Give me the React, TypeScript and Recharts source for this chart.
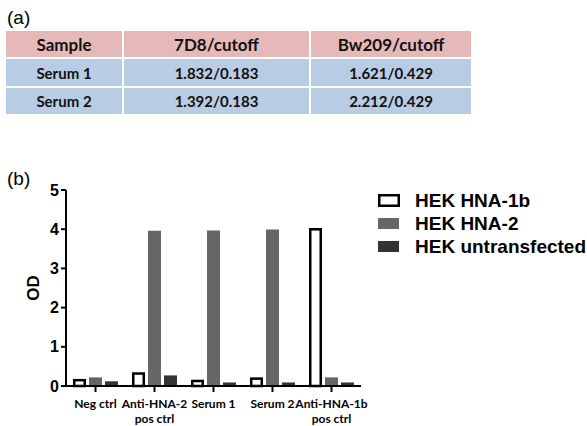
import { BarChart, Bar, XAxis, YAxis } from 'recharts';

const categories = ['Neg ctrl', 'Anti-HNA-2\npos ctrl', 'Serum 1', 'Serum 2', 'Anti-HNA-1b\npos ctrl'];
const hna1b = [0.18, 0.35, 0.16, 0.22, 4.03];
const hna2 = [0.22, 3.96, 3.97, 3.99, 0.22];
const untransfected = [0.12, 0.27, 0.09, 0.09, 0.09];
const yTicks = [0, 1, 2, 3, 4, 5];

const tableHeader = ['Sample', '7D8/cutoff', 'Bw209/cutoff'];
const tableRows = [
  ['Serum 1', '1.832/0.183', '1.621/0.429'],
  ['Serum 2', '1.392/0.183', '2.212/0.429'],
];

const SERIES = [
  { key: 'hna1b', name: 'HEK HNA-1b', fill: '#ffffff', stroke: '#000000' },
  { key: 'hna2', name: 'HEK HNA-2', fill: '#666666', stroke: 'none' },
  { key: 'untr', name: 'HEK untransfected', fill: '#333333', stroke: 'none' },
];

const chartData = categories.map((c, i) => ({
  name: c,
  hna1b: hna1b[i],
  hna2: hna2[i],
  untr: untransfected[i],
}));

const FONT = 'Lato, "Open Sans", sans-serif';
const ARIAL = 'Arial, "Liberation Sans", sans-serif';

function OutlinedBar(props: any) {
  const { x, y, width, height } = props;
  const s = 2.5;
  return (
    <rect
      x={x + s / 2}
      y={y + s / 2}
      width={Math.max(width - s, 0)}
      height={Math.max(height - s / 2, 0)}
      fill="#ffffff"
      stroke="#000000"
      strokeWidth={s}
    />
  );
}

function CategoryTick(props: any) {
  const { x, y, payload } = props;
  const lines = String(payload.value).split('\n');
  return (
    <g>
      {lines.map((l, i) => (
        <text
          key={i}
          x={x}
          y={y + 14 + i * 15}
          textAnchor="middle"
          fontFamily={FONT}
          fontWeight={700}
          fontSize={12}
          fill="#000"
        >
          {l}
        </text>
      ))}
    </g>
  );
}

function LegendBox() {
  return (
    <div style={{ fontFamily: ARIAL, fontWeight: 700, fontSize: 19 }}>
      {SERIES.map((s) => (
        <div key={s.key} style={{ display: 'flex', alignItems: 'center', height: 23 }}>
          <svg width={22} height={13} style={{ marginRight: 15 }}>
            <rect
              x={s.stroke === 'none' ? 0 : 1.25}
              y={s.stroke === 'none' ? 1 : 1.25}
              width={s.stroke === 'none' ? 21 : 19.5}
              height={s.stroke === 'none' ? 11 : 10.5}
              fill={s.fill}
              stroke={s.stroke}
              strokeWidth={2.5}
            />
          </svg>
          <span>{s.name}</span>
        </div>
      ))}
    </div>
  );
}

const cellBase = {
  display: 'flex',
  alignItems: 'center',
  justifyContent: 'center',
  fontFamily: FONT,
  fontWeight: 700,
  color: '#111',
};

export default function App() {
  const colW = [116, 185, 160];
  const colX = [6, 124, 311];
  const rowY = [31, 59, 88];
  const rowH = [26, 27, 26];
  return (
    <div style={{ position: 'absolute', left: 0, top: 0, width: 587, height: 426, background: '#fff', overflow: 'hidden' }}>
      <div style={{ position: 'absolute', left: 7, top: 7, fontFamily: ARIAL, fontSize: 19 }}>(a)</div>
      {[tableHeader, ...tableRows].map((row, r) =>
        row.map((cell, c) => (
          <div
            key={`${r}-${c}`}
            style={{
              ...cellBase,
              position: 'absolute',
              left: colX[c],
              top: rowY[r],
              width: colW[c],
              height: rowH[r],
              background: r === 0 ? '#e6b9b8' : '#b8cce4',
              fontSize: r === 0 ? 17 : 15,
            }}
          >
            {cell}
          </div>
        ))
      )}
      <div style={{ position: 'absolute', left: 7, top: 168, fontFamily: ARIAL, fontSize: 19 }}>(b)</div>
      <div style={{ position: 'absolute', left: 378, top: 189 }}>
        <LegendBox />
      </div>
      <div style={{ position: 'absolute', left: 0, top: 170 }}>
        <BarChart
          width={587}
          height={256}
          data={chartData}
          margin={{ top: 20, right: 226, bottom: 0, left: 0 }}
          barSize={13}
          barGap={3}
          barCategoryGap={7}
        >
          <XAxis
            dataKey="name"
            height={40}
            interval={0}
            axisLine={{ stroke: '#000', strokeWidth: 2 }}
            tickLine={{ stroke: '#000', strokeWidth: 2 }}
            tickSize={6}
            tick={<CategoryTick />}
          />
          <YAxis
            width={66}
            domain={[0, 5]}
            ticks={yTicks}
            interval={0}
            axisLine={{ stroke: '#000', strokeWidth: 2 }}
            tickLine={{ stroke: '#000', strokeWidth: 2 }}
            tickSize={5}
            tickMargin={2}
            tick={{ fill: '#000', fontFamily: ARIAL, fontWeight: 700, fontSize: 16 }}
            label={{
              value: 'OD',
              angle: -90,
              position: 'insideLeft',
              offset: 33,
              textAnchor: 'middle',
              style: { fontFamily: ARIAL, fontWeight: 700, fontSize: 17, fill: '#000', textAnchor: 'middle' },
            }}
          />
          <Bar dataKey="hna1b" name="HEK HNA-1b" fill="#ffffff" shape={<OutlinedBar />} isAnimationActive={false} />
          <Bar dataKey="hna2" name="HEK HNA-2" fill="#666666" isAnimationActive={false} />
          <Bar dataKey="untr" name="HEK untransfected" fill="#333333" isAnimationActive={false} />
        </BarChart>
      </div>
    </div>
  );
}
